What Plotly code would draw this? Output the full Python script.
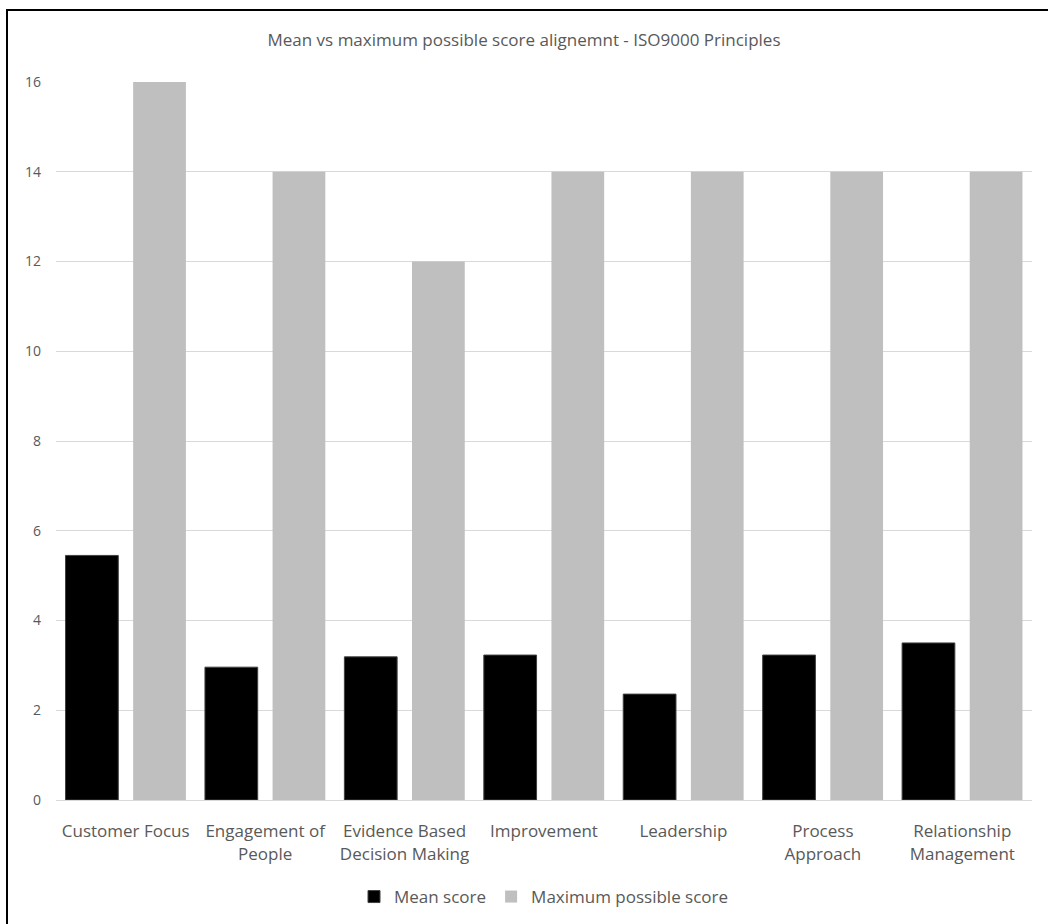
import plotly.graph_objects as go

categories = [
    "Customer Focus",
    "Engagement of<br>People",
    "Evidence Based<br>Decision Making",
    "Improvement",
    "Leadership",
    "Process<br>Approach",
    "Relationship<br>Management",
]
mean_score = [5.45, 2.96, 3.19, 3.23, 2.36, 3.23, 3.50]
max_score = [16, 14, 12, 14, 14, 14, 14]

FONT = "Open Sans, sans-serif"
TEXT = "#595959"

W, H = 1048, 924
L, R, T, B = 56, 16, 82, 124
pw, ph = W - L - R, H - T - B

fig = go.Figure()
fig.add_trace(go.Bar(
    x=categories, y=mean_score, name="Mean score",
    marker=dict(color="#000000", line=dict(color="#404040", width=1)),
))
fig.add_trace(go.Bar(
    x=categories, y=max_score, name="Maximum possible score",
    marker=dict(color="#bfbfbf", line=dict(width=0)),
))

# outer frame around the chart
fig.add_shape(
    type="rect", xref="paper", yref="paper",
    x0=(7 - L) / pw, x1=(W + 20 - L) / pw,
    y0=(T + ph - (H + 20)) / ph, y1=(T + ph - 10) / ph,
    line=dict(color="#000000", width=2), fillcolor="rgba(0,0,0,0)", layer="above",
)

fig.update_layout(
    width=W, height=H,
    margin=dict(l=L, r=R, t=T, b=B, autoexpand=False),
    paper_bgcolor="white", plot_bgcolor="white",
    barmode="group", bargap=0.03, bargroupgap=0.22,
    title=dict(
        text="Mean vs maximum possible score alignemnt - ISO9000 Principles",
        x=0.5, xanchor="center", y=1 - 40 / H, yanchor="middle",
        font=dict(family=FONT, size=17, color=TEXT),
    ),
    font=dict(family=FONT, size=16, color=TEXT),
    xaxis=dict(
        showgrid=False, showline=True, linecolor="#d9d9d9", linewidth=1,
        ticks="", tickfont=dict(family=FONT, size=17, color=TEXT),
        tickangle=0, ticklabelstandoff=16, automargin=False,
    ),
    yaxis=dict(
        range=[0, 16], tickvals=[0, 2, 4, 6, 8, 10, 12, 14, 16],
        showgrid=True, gridcolor="#d9d9d9", gridwidth=1,
        zeroline=False, showline=False, ticks="",
        tickfont=dict(family=FONT, size=14, color=TEXT),
        ticklabelstandoff=14, automargin=False,
    ),
    legend=dict(
        orientation="h", x=0.5, xanchor="center",
        y=(T + ph - 897) / ph, yanchor="middle",
        font=dict(family=FONT, size=17, color=TEXT),
        itemwidth=30, traceorder="normal",
    ),
)

fig.write_html("out.html")
